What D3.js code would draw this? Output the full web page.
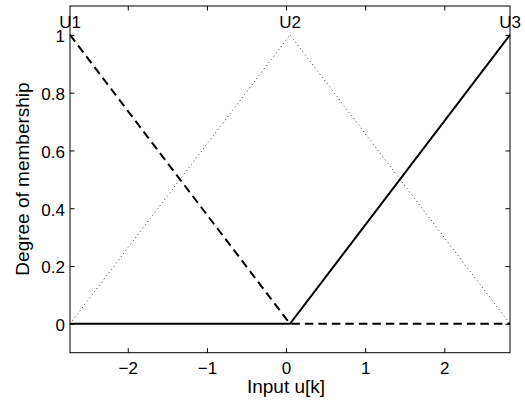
<!DOCTYPE html>
<html>
<head>
<meta charset="utf-8">
<script src="https://cdn.jsdelivr.net/npm/d3@7"></script>
<style>
  body { margin: 0; background: #fff; }
  text { font-family: "Liberation Sans", Arial, sans-serif; }
</style>
</head>
<body>
<svg id="chart" width="525" height="400"></svg>
<script>
// membership function centres and names
const centers = [-2.73, 0.05, 2.83];
const setNames = ["U1", "U2", "U3"];
// breakpoints of each function (x, degree)
const u1Pts = [[-2.73, 1], [0.05, 0], [2.83, 0]];
const u2Pts = [[-2.73, 0], [0.05, 1], [2.83, 0]];
const u3Pts = [[-2.73, 0], [0.05, 0], [2.83, 1]];
const xTicks = [-2, -1, 0, 1, 2];
const yTicks = [0, 0.2, 0.4, 0.6, 0.8, 1];

const svg = d3.select("#chart");
const padL = 70, padR = 510, padT = 6, padB = 352.7;
const fs = 17, labelFs = 19;

const x = d3.scaleLinear().domain([-2.73, 2.83]).range([padL, padR]);
const y = d3.scaleLinear().domain([-0.1, 1.1]).range([padB, padT]);

function tickFmt(d) {
  return d < 0 ? "\u2212" + Math.abs(d) : String(d);
}

// bottom axis + mirrored top ticks
const gx = svg.append("g").attr("transform", `translate(0,${padB})`)
  .call(d3.axisBottom(x).tickValues(xTicks).tickFormat(tickFmt).tickSizeInner(-4.5).tickSizeOuter(0).tickPadding(9));
const gxTop = svg.append("g").attr("transform", `translate(0,${padT})`)
  .call(d3.axisTop(x).tickValues(xTicks).tickFormat("").tickSizeInner(-4.5).tickSizeOuter(0));
const gy = svg.append("g").attr("transform", `translate(${padL},0)`)
  .call(d3.axisLeft(y).tickValues(yTicks).tickFormat(d3.format("")).tickSizeInner(-4.5).tickSizeOuter(0).tickPadding(5));
const gyR = svg.append("g").attr("transform", `translate(${padR},0)`)
  .call(d3.axisRight(y).tickValues(yTicks).tickFormat("").tickSizeInner(-4.5).tickSizeOuter(0));

[gx, gxTop, gy, gyR].forEach(g => {
  g.select(".domain").remove();
  g.selectAll("line").attr("stroke", "#000");
  g.selectAll("text").attr("font-size", fs).attr("fill", "#000");
});
gy.selectAll("text").attr("dy", "0.4em");

// box
svg.append("rect")
  .attr("x", padL).attr("y", padT)
  .attr("width", padR - padL).attr("height", padB - padT)
  .attr("fill", "none").attr("stroke", "#000").attr("stroke-width", 1);

const line = d3.line().x(d => x(d[0])).y(d => y(d[1]));

svg.append("path").attr("d", line(u2Pts))
  .attr("fill", "none").attr("stroke", "#333").attr("stroke-width", 1)
  .attr("stroke-dasharray", "1,3");
svg.append("path").attr("d", line(u1Pts))
  .attr("fill", "none").attr("stroke", "#000").attr("stroke-width", 2)
  .attr("stroke-dasharray", "8.5,5");
svg.append("path").attr("d", line(u3Pts))
  .attr("fill", "none").attr("stroke", "#000").attr("stroke-width", 2);

// set labels
svg.selectAll(".setlbl").data(centers).enter().append("text")
  .attr("class", "setlbl")
  .attr("x", d => x(d)).attr("y", 28)
  .attr("text-anchor", "middle").attr("font-size", fs)
  .text((d, i) => setNames[i]);

// axis titles
svg.append("text")
  .attr("x", x(0)).attr("y", 393)
  .attr("text-anchor", "middle").attr("font-size", labelFs)
  .text("Input u[k]");
svg.append("text")
  .attr("transform", `translate(29,179) rotate(-90)`)
  .attr("text-anchor", "middle").attr("font-size", labelFs)
  .text("Degree of membership");
</script>
</body>
</html>
